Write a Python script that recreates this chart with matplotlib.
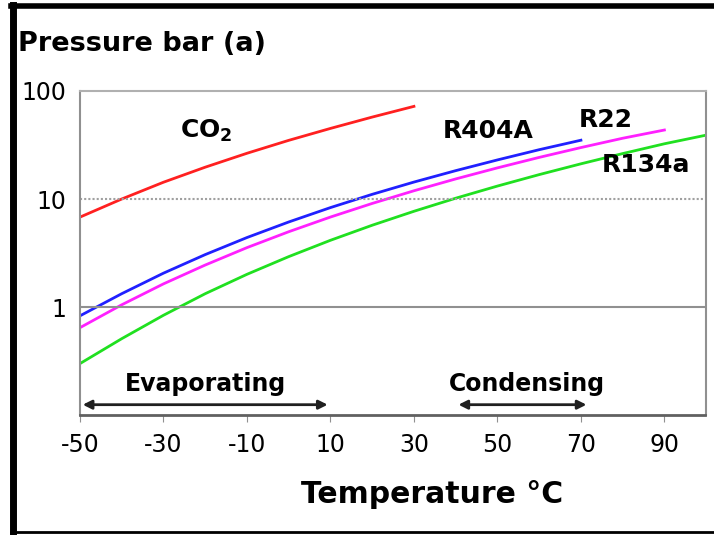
import matplotlib
matplotlib.use("Agg")
import matplotlib.pyplot as plt
from matplotlib.lines import Line2D

plt.rcParams["axes.unicode_minus"] = False

# saturation pressure, bar (a)
temps_co2 = [-50, -40, -30, -20, -10, 0, 10, 20, 30]
p_co2 = [6.8, 10.0, 14.3, 19.7, 26.5, 34.9, 45.0, 57.3, 72.0]

temps_r404a = [-50, -40, -30, -20, -10, 0, 10, 20, 30, 40, 50, 60, 70]
p_r404a = [0.83, 1.33, 2.06, 3.06, 4.40, 6.13, 8.33, 11.05, 14.35, 18.3, 23.0, 28.6, 35.0]

temps_r22 = [-50, -40, -30, -20, -10, 0, 10, 20, 30, 40, 50, 60, 70, 80, 90]
p_r22 = [0.645, 1.05, 1.64, 2.45, 3.55, 4.98, 6.81, 9.10, 11.92, 15.34, 19.42, 24.27, 29.93, 36.5, 43.5]

temps_r134a = [-50, -40, -30, -20, -10, 0, 10, 20, 30, 40, 50, 60, 70, 80, 90, 100]
p_r134a = [0.30, 0.51, 0.84, 1.33, 2.01, 2.93, 4.15, 5.72, 7.70, 10.17, 13.18, 16.82, 21.17, 26.33, 32.44, 39.0]

x_ticks = [-50, -30, -10, 10, 30, 50, 70, 90]
y_ticks = [1, 10, 100]
y_tick_labels = ["1", "10", "100"]

evap_range = (-50, 10)
cond_range = (40, 72)

fig = plt.figure(figsize=(7.14, 5.35), dpi=100)
ax = fig.add_axes([0.112, 0.224, 0.877, 0.606])

ax.plot(temps_co2, p_co2, color="#ff2020", lw=2)
ax.plot(temps_r404a, p_r404a, color="#2020ff", lw=2)
ax.plot(temps_r22, p_r22, color="#ff20ff", lw=2)
ax.plot(temps_r134a, p_r134a, color="#20e020", lw=2)

ax.set_yscale("log")
ax.set_xlim(-50, 100)
ax.set_ylim(0.1, 100)
ax.set_xticks(x_ticks)
ax.set_yticks(y_ticks)
ax.set_yticklabels(y_tick_labels)
ax.minorticks_off()
ax.tick_params(axis="x", length=5, color="#909090", labelsize=17, pad=8)
ax.tick_params(axis="y", length=0, labelsize=17, pad=10)

# grid lines
ax.axhline(10, color="#a0a0a0", lw=1.5, ls=(0, (1, 1)))
ax.axhline(1, color="#909090", lw=1.5)

for s in ["left", "right"]:
    ax.spines[s].set_color("#909090")
    ax.spines[s].set_linewidth(1.5)
ax.spines["top"].set_color("#b0b0b0")
ax.spines["top"].set_linestyle((0, (1, 1)))
ax.spines["top"].set_linewidth(1.5)
ax.spines["bottom"].set_color("#606060")
ax.spines["bottom"].set_linestyle((0, (1, 1)))
ax.spines["bottom"].set_linewidth(2)

# curve labels
ax.text(-26, 43, "CO$_\\mathbf{2}$", fontsize=18, fontweight="bold", ha="left", va="center")
ax.text(37, 43, "R404A", fontsize=18, fontweight="bold", ha="left", va="center")
ax.text(69.5, 54, "R22", fontsize=18, fontweight="bold", ha="left", va="center")
ax.text(75, 20.5, "R134a", fontsize=18, fontweight="bold", ha="left", va="center")

# evaporating / condensing arrows
ax.annotate("", xy=(evap_range[0], 0.125), xytext=(evap_range[1], 0.125),
            arrowprops=dict(arrowstyle="<|-|>", color="#202020", lw=2, mutation_scale=13))
ax.text((evap_range[0] + evap_range[1]) / 2, 0.195, "Evaporating", fontsize=17,
        fontweight="bold", ha="center", va="center")
ax.annotate("", xy=(cond_range[0], 0.125), xytext=(cond_range[1], 0.125),
            arrowprops=dict(arrowstyle="<|-|>", color="#202020", lw=2, mutation_scale=13))
ax.text(57, 0.195, "Condensing", fontsize=17, fontweight="bold", ha="center", va="center")

fig.text(0.025, 0.918, "Pressure bar (a)", fontsize=19.5, fontweight="bold", ha="left", va="center")
fig.text(0.605, 0.075, "Temperature °C", fontsize=21.5, fontweight="bold", ha="center", va="center")

# outer frame
fig.add_artist(Line2D([0.018, 0.018], [0.004, 0.99], transform=fig.transFigure, color="black", lw=5))
fig.add_artist(Line2D([0.015, 1.0], [0.988, 0.988], transform=fig.transFigure, color="black", lw=4))
fig.add_artist(Line2D([0.015, 1.0], [0.006, 0.006], transform=fig.transFigure, color="black", lw=2))

fig.savefig("out.png", dpi=100)
